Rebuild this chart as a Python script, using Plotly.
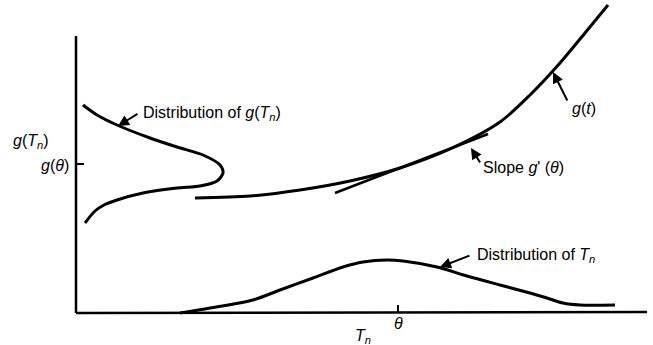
import plotly.graph_objects as go

# ---- data (figure units: x to the right, y upward) ----
# distribution of T_n (bottom density)
tn_x = [180, 210, 253, 280, 313, 343, 363, 387, 403, 437, 467, 500, 530, 547, 563, 580, 615]
tn_y = [32, 37, 45, 55, 67, 78, 83, 85, 84, 78, 69, 60, 52, 47, 42, 40, 40]

# distribution of g(T_n) (sideways density on the left)
gd_x = [83, 97, 117, 150, 177, 203, 220, 223, 217, 200, 177, 143, 117, 104, 95, 85]
gd_y = [240, 230, 220, 207, 198, 190, 180, 172, 164, 159, 157, 152, 145, 140, 134, 122]

# the function g(t)
g_x = [195, 250, 300, 350, 400, 450, 500, 530, 560, 585, 608]
g_y = [147, 149, 155, 164, 177, 196, 223, 250, 282, 312, 340]

# tangent with slope g'(theta)
tan_x = [335, 488]
tan_y = [152, 211]

# axes
axis_v_x = [76, 76]
axis_v_y = [309, 32]
axis_h_x = [76, 647]
axis_h_y = [32, 33]

theta = 398
g_theta = 181

fig = go.Figure()
line = dict(color="black", width=3)

fig.add_trace(go.Scatter(x=axis_v_x, y=axis_v_y, mode="lines", line=dict(color="black", width=2.5)))
fig.add_trace(go.Scatter(x=axis_h_x, y=axis_h_y, mode="lines", line=dict(color="black", width=2.5)))
fig.add_trace(go.Scatter(x=[theta, theta], y=[32, 40], mode="lines", line=dict(color="black", width=2)))
fig.add_trace(go.Scatter(x=[76, 84], y=[g_theta, g_theta], mode="lines", line=dict(color="black", width=2)))

fig.add_trace(go.Scatter(x=tn_x, y=tn_y, mode="lines", line=dict(line, shape="spline", smoothing=0.8)))
fig.add_trace(go.Scatter(x=gd_x, y=gd_y, mode="lines", line=dict(line, shape="spline", smoothing=0.8)))
fig.add_trace(go.Scatter(x=g_x, y=g_y, mode="lines", line=dict(line, shape="spline", smoothing=0.8)))
fig.add_trace(go.Scatter(x=tan_x, y=tan_y, mode="lines", line=dict(color="black", width=2.5)))

font = dict(family="Liberation Sans, Arial, sans-serif", size=16, color="black")

def label(x, y, text, xanchor="left"):
    fig.add_annotation(x=x, y=y, text=text, showarrow=False, xanchor=xanchor,
                       yanchor="middle", font=font)

def arrow(tip, tail):
    fig.add_annotation(x=tip[0], y=tip[1], ax=tail[0], ay=tail[1], axref="x", ayref="y",
                       text="", showarrow=True, arrowhead=2, arrowsize=1.1,
                       arrowwidth=2, arrowcolor="black", standoff=0, startstandoff=0)

label(theta, 22, "<i>θ</i>", "center")
label(363, 9, "<i>T<sub>n</sub></i>", "center")
label(71, 180, "<i>g</i>(<i>θ</i>)", "right")
label(11, 204, "<i>g</i>(<i>T<sub>n</sub></i>)")
label(141, 232, "Distribution of <i>g</i>(<i>T<sub>n</sub></i>)")
label(475, 90, "Distribution of <i>T<sub>n</sub></i>")
label(481, 178, "Slope <i>g</i>' (<i>θ</i>)")
label(570, 237, "<i>g</i>(<i>t</i>)")

arrow((118, 219), (139, 232))
arrow((440, 78), (471, 90))
arrow((471, 197), (481, 181))
arrow((553, 273), (568, 243))

fig.update_layout(
    width=653, height=345,
    margin=dict(l=0, r=0, t=0, b=0),
    paper_bgcolor="white", plot_bgcolor="white",
    showlegend=False,
    xaxis=dict(range=[0, 653], visible=False, fixedrange=True),
    yaxis=dict(range=[0, 345], visible=False, fixedrange=True),
)

fig.write_html("out.html", config={"displayModeBar": False},
               post_script="document.body.style.margin='0';document.body.style.overflow='hidden';")
